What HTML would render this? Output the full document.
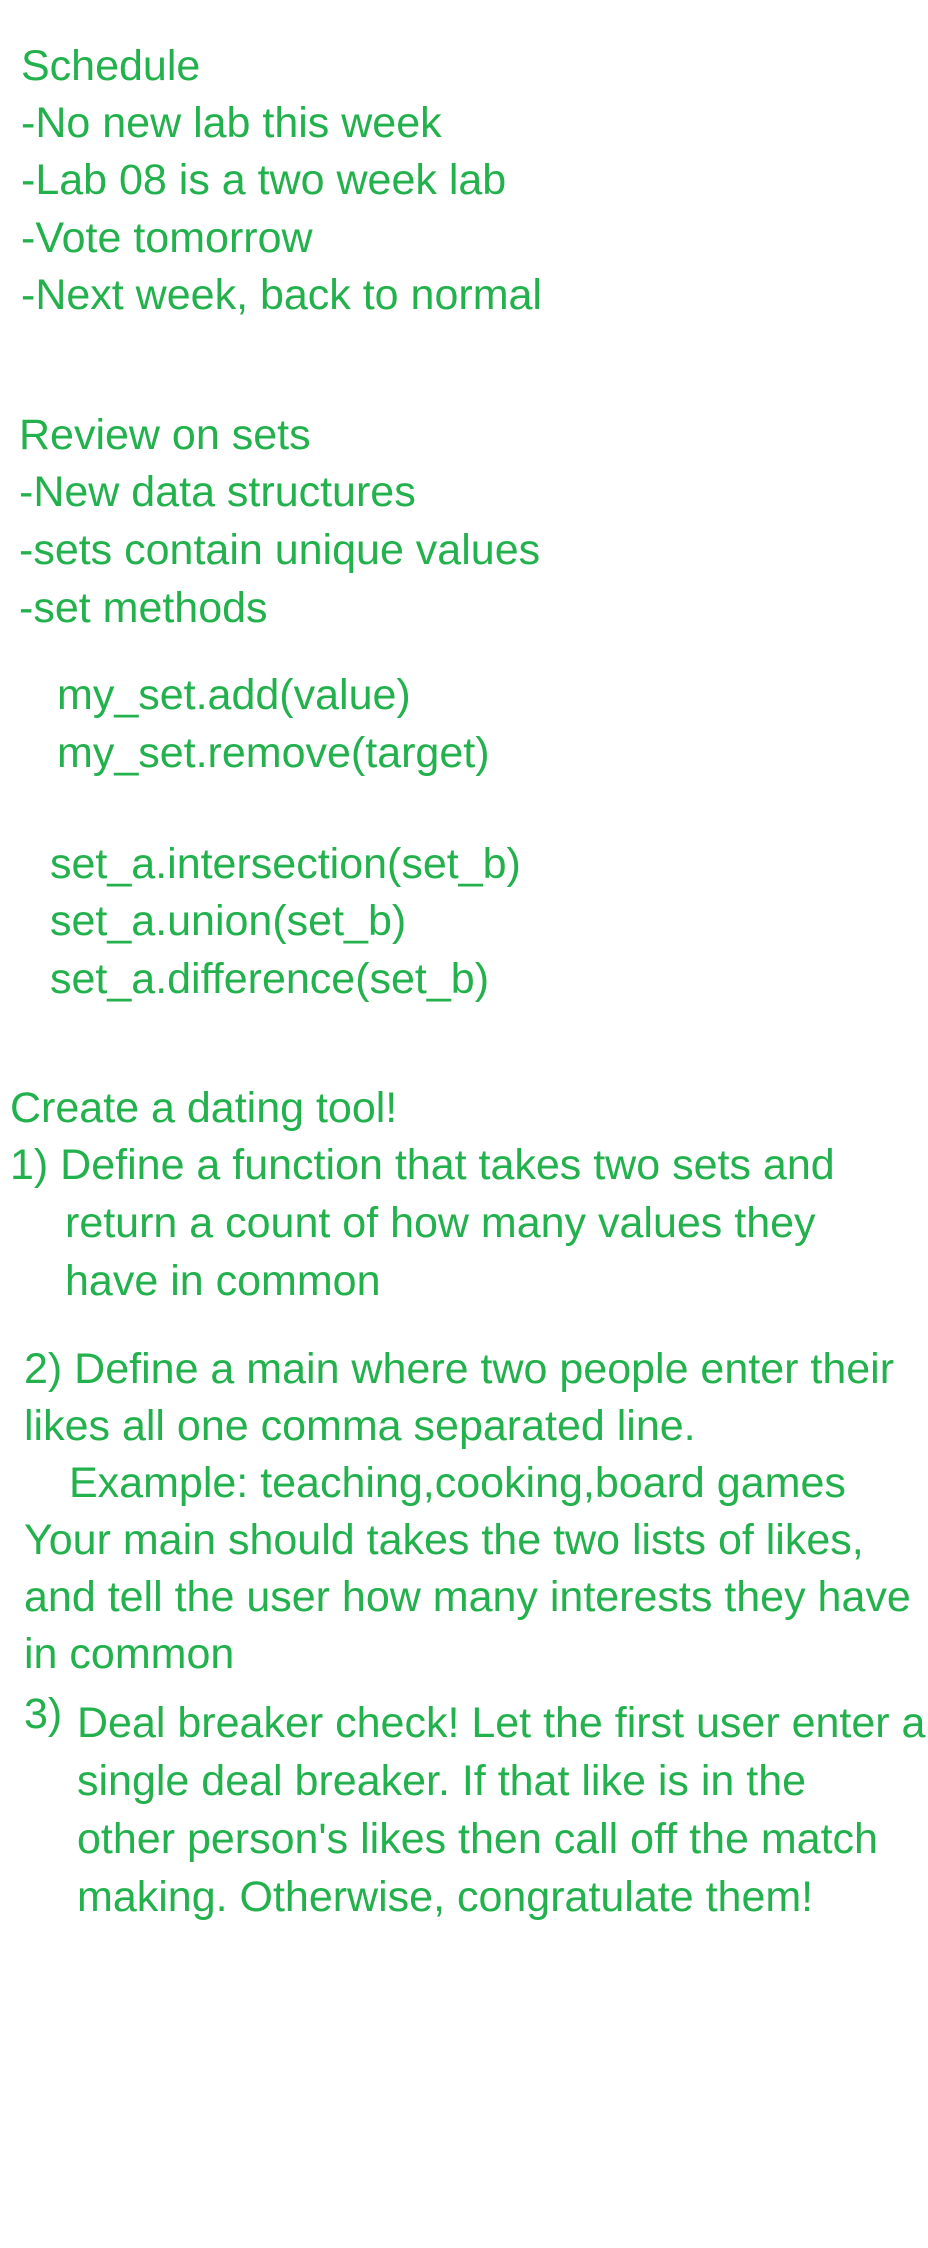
<!DOCTYPE html>
<html><head><meta charset="utf-8"><style>
html,body{margin:0;padding:0;background:#fff;}
svg{display:block}
text{font-family:"Liberation Sans",sans-serif;font-size:43px;fill:#22b14c;}
</style></head><body>
<svg width="928" height="2248" viewBox="0 0 928 2248" xmlns="http://www.w3.org/2000/svg">
<text x="21" y="80">Schedule</text>
<text x="21" y="137">-No new lab this week</text>
<text x="21" y="194">-Lab 08 is a two week lab</text>
<text x="21" y="252">-Vote tomorrow</text>
<text x="21" y="309">-Next week, back to normal</text>
<text x="19" y="449">Review on sets</text>
<text x="19" y="506">-New data structures</text>
<text x="19" y="564">-sets contain unique values</text>
<text x="19" y="622">-set methods</text>
<text x="57" y="709">my_set.add(value)</text>
<text x="57" y="767">my_set.remove(target)</text>
<text x="50" y="878">set_a.intersection(set_b)</text>
<text x="50" y="935">set_a.union(set_b)</text>
<text x="50" y="993">set_a.difference(set_b)</text>
<text x="10" y="1122">Create a dating tool!</text>
<text x="10" y="1179">1) Define a function that takes two sets and</text>
<text x="65" y="1237">return a count of how many values they</text>
<text x="65" y="1295">have in common</text>
<text x="24" y="1383">2) Define a main where two people enter their</text>
<text x="24" y="1440">likes all one comma separated line.</text>
<text x="69" y="1497">Example: teaching,cooking,board games</text>
<text x="24" y="1554">Your main should takes the two lists of likes,</text>
<text x="24" y="1611">and tell the user how many interests they have</text>
<text x="24" y="1668">in common</text>
<text x="24" y="1728">3)</text>
<text x="77" y="1737">Deal breaker check! Let the first user enter a</text>
<text x="77" y="1795">single deal breaker. If that like is in the</text>
<text x="77" y="1853">other person's likes then call off the match</text>
<text x="77" y="1911">making. Otherwise, congratulate them!</text>
</svg>
</body></html>
